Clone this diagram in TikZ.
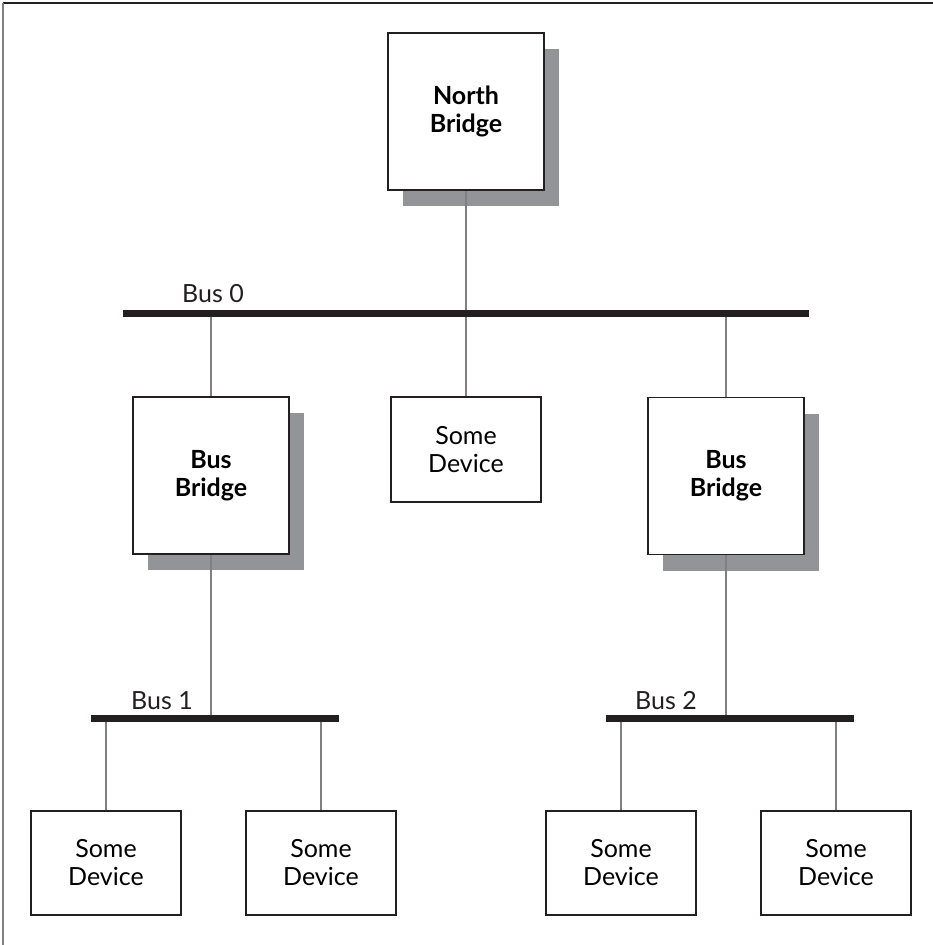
\documentclass[tikz,border=0pt]{standalone}
\usepackage{fontspec}
\setmainfont{Lato}
\usetikzlibrary{shadows}
\definecolor{boxc}{HTML}{231F20}
\definecolor{shadowc}{HTML}{929497}
\definecolor{linec}{HTML}{808080}
\definecolor{busc}{HTML}{231F20}
\tikzset{
  bridgebox/.style={draw=boxc, fill=white, line width=1.3pt, minimum width=156pt, minimum height=157pt,
    inner sep=0pt, align=center, font=\fontsize{25}{28}\selectfont\bfseries,
    general shadow={shadow xshift=15pt, shadow yshift=-16pt, fill=shadowc}},
  devbox/.style={draw=boxc, fill=white, line width=1.3pt, minimum width=150pt, minimum height=105pt,
    inner sep=0pt, align=center, font=\fontsize{25}{28}\selectfont},
  busline/.style={draw=busc, line width=7pt},
  conn/.style={draw=linec, line width=1.5pt},
  buslabel/.style={anchor=base west, inner sep=0pt, font=\fontsize{25}{28}\selectfont, text=boxc}
}
\begin{document}
\begin{tikzpicture}[x=1pt, y=-1pt]
\useasboundingbox (0,0) rectangle (933,945);
% frame
\draw[draw=boxc, line width=2pt] (3,3) -- (933,3);
\draw[draw=linec, line width=2.5pt] (3,3) -- (3,945);

% buses
\coordinate (b0l) at (123,313.5);
\coordinate (b0r) at (809,313.5);
\coordinate (b1l) at (91,718);
\coordinate (b1r) at (339,718);
\coordinate (b2l) at (606,718);
\coordinate (b2r) at (854,718);

% bus taps
\coordinate (t0a) at (211,313.5);
\coordinate (t0c) at (726,313.5);
\coordinate (t1a) at (106,718);
\coordinate (t1b) at (321,718);
\coordinate (t2a) at (621,718);
\coordinate (t2b) at (836,718);

% nodes
\node[bridgebox] (nb) at (466,111.5) {North\\Bridge};
\node[bridgebox] (bb1) at (211,475.5) {Bus\\Bridge};
\node[bridgebox] (bb2) at (726,476) {Bus\\Bridge};
\node[devbox] (d0) at (466,449.5) {Some\\Device};
\node[devbox, minimum height=104pt] (d1) at (106,863) {Some\\Device};
\node[devbox, minimum height=104pt] (d2) at (321,863) {Some\\Device};
\node[devbox, minimum height=104pt] (d3) at (621,863) {Some\\Device};
\node[devbox, minimum height=104pt] (d4) at (836,863) {Some\\Device};

% connectors
\draw[conn] (nb.south) -- (d0.north);
\draw[conn] (t0a) -- (bb1.north);
\draw[conn] (t0c) -- (bb2.north);
\draw[conn] (bb1.south) -- (bb1.south |- b1l);
\draw[conn] (bb2.south) -- (bb2.south |- b2l);
\draw[conn] (t1a) -- (d1.north);
\draw[conn] (t1b) -- (d2.north);
\draw[conn] (t2a) -- (d3.north);
\draw[conn] (t2b) -- (d4.north);

% bus lines
\draw[busline] (b0l) -- (b0r);
\draw[busline] (b1l) -- (b1r);
\draw[busline] (b2l) -- (b2r);

% bus labels
\node[buslabel] (l0) at (182,302) {Bus 0};
\node[buslabel] (l1) at (131,709) {Bus 1};
\node[buslabel] (l2) at (635,709) {Bus 2};
\end{tikzpicture}
\end{document}
